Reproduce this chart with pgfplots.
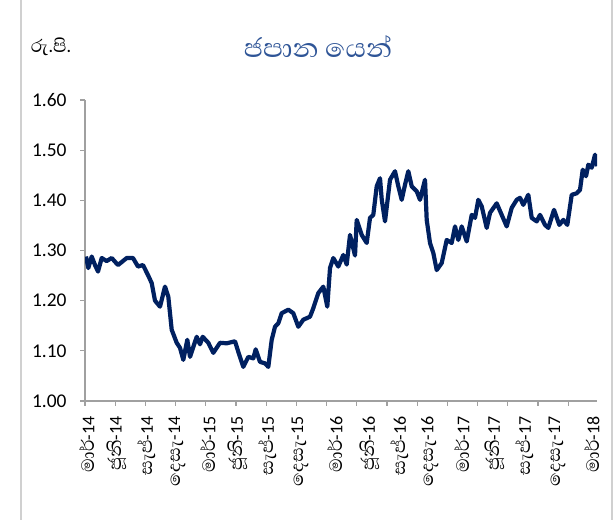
\documentclass[border=0pt]{standalone}
\usepackage{fontspec}
\setmainfont{Carlito}
\newfontfamily\sinhfont[Script=Sinhala]{Abhaya Libre}
\usepackage{pgfplots}
\pgfplotsset{compat=1.18}
\definecolor{navy}{HTML}{002060}
\definecolor{titleblue}{HTML}{2F5597}
\definecolor{axgray}{HTML}{A0A0A0}
\definecolor{framegray}{HTML}{D0D0D0}

\newcommand{\sinhlab}[1]{{\sinhfont\fontsize{23}{26}\selectfont #1}}
\newcommand{\Mar}{\sinhlab{මාර්}}
\newcommand{\Jun}{\sinhlab{ජූනි}}
\newcommand{\Sep}{\sinhlab{සැප්}}
\newcommand{\Dec}{\sinhlab{දෙසැ}}

\begin{document}
\begin{tikzpicture}[x=1bp,y=1bp]
\path[use as bounding box] (0,0) rectangle (616,520);
\draw[framegray, line width=2bp] (21,0) -- (21,520);
\draw[framegray, line width=2bp] (612,0) -- (612,520);
\node[font=\sinhfont\fontsize{23}{26}\selectfont] at (51,473) {රු.පි.};
\node[font=\sinhfont\fontsize{34}{38}\selectfont, text=titleblue] at (318,473) {ජපාන යෙන්};
\begin{axis}[
  at={(85bp,119bp)}, anchor=south west,
  scale only axis, width=512bp, height=301bp,
  xmin=0, xmax=512, ymin=1, ymax=1.6,
  axis x line*=bottom, axis y line*=left,
  axis line style={axgray, line width=1.3bp},
  tick align=outside, major tick length=5bp,
  tick style={axgray, line width=1.3bp},
  ytick={1.0,1.1,1.2,1.3,1.4,1.5,1.6},
  yticklabel style={font=\fontsize{19.5}{22}\selectfont, xshift=-10bp,
    /pgf/number format/.cd, fixed, fixed zerofill, precision=2, assume math mode=true},
  xtick={0,30.2,60.4,90.6,120.8,151,181.2,211.4,241.6,271.8,302,332.2,362.4,392.6,422.8,453,483.2},
  xticklabels={},
  extra x ticks={2,32,62,92,123,153,183,215,250,285,315,345,377,410,440,472,507},
  extra x tick labels={\Mar-14,\Jun-14,\Sep-14,\Dec-14,\Mar-15,\Jun-15,\Sep-15,\Dec-15,\Mar-16,\Jun-16,\Sep-16,\Dec-16,\Mar-17,\Jun-17,\Sep-17,\Dec-17,\Mar-18},
  extra x tick style={tick style={draw=none}},
  xticklabel style={yshift=-7bp, rotate=90, anchor=east, font=\fontsize{18}{20}\selectfont},
]
\addplot[navy, line width=4.2bp, line join=round] coordinates {
(1,1.288) (3.3,1.265) (6.7,1.288) (10,1.271) (13,1.258) (16.7,1.285) (21.7,1.279)
(26.7,1.285) (33,1.271) (41.7,1.285) (48,1.285) (53,1.268) (58,1.271) (63,1.251)
(66.7,1.235) (70,1.200) (75,1.188) (80,1.228) (83.3,1.208) (86.7,1.142) (91.7,1.116)
(95,1.106) (98.3,1.082) (102.3,1.122) (105,1.088) (111.7,1.128) (115,1.113)
(117.7,1.128) (123.3,1.116) (128.3,1.096) (135,1.116) (141.7,1.115) (150,1.119)
(153.3,1.098) (158.3,1.068) (163.3,1.088) (168.3,1.085) (170.7,1.103) (175,1.078)
(180,1.075) (183.3,1.068) (186.7,1.122) (190,1.148) (193.3,1.155) (196.7,1.175)
(203.3,1.182) (208.3,1.175) (213.3,1.148) (218.3,1.162) (225,1.168) (228.3,1.185)
(233.3,1.215) (238.3,1.228) (242.3,1.188) (245,1.265) (248.3,1.285) (253.3,1.268)
(258.3,1.291) (261.7,1.272) (265,1.331) (270,1.290) (271.7,1.361) (276.7,1.331)
(281.7,1.315) (285,1.365) (288.3,1.371) (291.7,1.428) (295,1.444) (296.7,1.402)
(300,1.358) (305,1.441) (310,1.458) (313.3,1.428) (316.7,1.401) (320,1.431)
(323.3,1.458) (326.7,1.428) (331.7,1.418) (335,1.401) (340,1.441) (341.7,1.361)
(345,1.315) (348.3,1.295) (351.7,1.261) (356.7,1.275) (361.7,1.321) (366.7,1.315)
(370,1.348) (373.3,1.321) (376.7,1.348) (381.7,1.318) (386.7,1.371) (390,1.365)
(393.3,1.401) (396.7,1.388) (401.7,1.345) (405,1.375) (411.7,1.394) (416.7,1.371)
(421.7,1.348) (426.7,1.385) (431.7,1.401) (435,1.405) (438.3,1.391) (443.3,1.411)
(446.7,1.365) (451.7,1.358) (455,1.371) (460,1.351) (463.3,1.345) (469,1.381)
(474.3,1.351) (478.3,1.361) (482.3,1.351) (486.7,1.411) (491.7,1.414) (495,1.421)
(497.7,1.461) (501,1.448) (503.3,1.471) (506.7,1.465) (510,1.491) (512,1.468)
};
\end{axis}
\end{tikzpicture}
\end{document}
